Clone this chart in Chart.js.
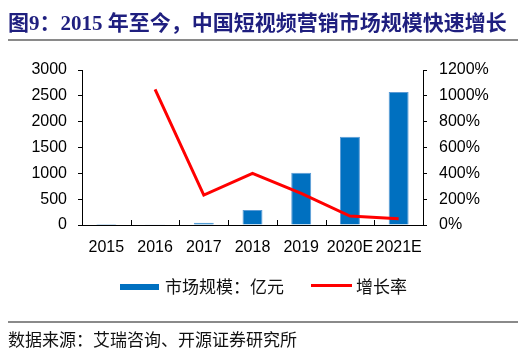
<!DOCTYPE html>
<html>
<head>
<meta charset="utf-8">
<script src="https://cdn.jsdelivr.net/npm/chart.js@4.4.1/dist/chart.umd.min.js"></script>
<style>
    body { margin: 0; background: #fff; }
    #wrap { position: relative; width: 522px; height: 352px; overflow: hidden; }
    #chart { position: absolute; left: 0; top: 0; }
    .abs { position: absolute; white-space: nowrap; }
    .title { left: 8px; top: 13px; font: bold 21px/21px "Liberation Serif", "Noto Sans CJK SC", serif; color: #1F1F7F; }
    .rule { left: 8px; width: 510px; height: 2px; background: #8a8a8a; }
    .note { font: 17px/17px "Noto Sans CJK SC", sans-serif; color: #111; }
</style>
</head>
<body>
<div id="wrap">
    <canvas id="chart" width="522" height="352"></canvas>
    <div class="abs title">图9：2015 年至今，中国短视频营销市场规模快速增长</div>
    <div class="abs rule" style="top:39px"></div>
    <div class="abs" style="left:120px; top:284px; width:39px; height:6px; background:#0070C0"></div>
    <div class="abs note" style="left:165px; top:277px">市场规模：亿元</div>
    <div class="abs" style="left:311px; top:284px; width:41px; height:3px; background:#FF0000"></div>
    <div class="abs note" style="left:356px; top:277px">增长率</div>
    <div class="abs rule" style="top:321px"></div>
    <div class="abs note" style="left:8px; top:330px">数据来源：艾瑞咨询、开源证券研究所</div>
</div>
<script>
// ======================================================
// Data
// ======================================================

const years = ["2015", "2016", "2017", "2018", "2019", "2020E", "2021E"];

const marketSize = [1, 13, 45, 290, 1012, 1709, 2574];      // 亿元

const growthRate = [null, 1050, 232, 400, 245, 69, 48];     // %

const leftTicks = [0, 500, 1000, 1500, 2000, 2500, 3000];

const rightTicks = [0, 200, 400, 600, 800, 1000, 1200];

// ======================================================
// Inward x-axis ticks between categories
// ======================================================

const innerTicks = {

    id: "innerTicks",

    afterDraw(chart) {

        const x = chart.scales.x;
        const ctx = chart.ctx;

        ctx.save();
        ctx.strokeStyle = "#000";
        ctx.lineWidth = 1;
        ctx.beginPath();

        for (let i = 1; i < years.length; i++) {
            const px = Math.round(x.getPixelForValue(i - 0.5)) + 0.5;
            ctx.moveTo(px, x.top);
            ctx.lineTo(px, x.top - 5);
        }

        ctx.stroke();
        ctx.restore();
    }
};

// ======================================================
// Chart
// ======================================================

Chart.defaults.font.family = "'Liberation Sans', Arial, sans-serif";
Chart.defaults.font.size = 16;
Chart.defaults.color = "#000";

new Chart(document.querySelector("#chart"), {

    type: "bar",

    data: {

        labels: years,

        datasets: [{
            type: "line",
            label: "增长率",
            data: growthRate,
            yAxisID: "y1",
            borderColor: "#FF0000",
            borderWidth: 3,
            pointRadius: 0,
            tension: 0,
            order: 0
        }, {
            type: "bar",
            label: "市场规模：亿元",
            data: marketSize,
            yAxisID: "y",
            backgroundColor: "#0070C0",
            borderColor: "#5B9BD5",
            borderWidth: 1,
            categoryPercentage: 1,
            barPercentage: 0.41,
            order: 1
        }]
    },

    options: {

        responsive: false,
        animation: false,

        layout: {
            padding: { left: 22, right: 19, top: 70, bottom: 87 }
        },

        plugins: {
            legend: { display: false },
            tooltip: { enabled: false }
        },

        scales: {

            x: {
                offset: true,
                afterFit: s => { s.height = 40; },
                border: { display: true, color: "#000", width: 1 },
                grid: { display: true, drawOnChartArea: false, drawTicks: false, offset: true },
                ticks: { padding: 13, maxRotation: 0, autoSkip: false }
            },

            y: {
                position: "left",
                min: 0,
                max: 3000,
                afterFit: s => { s.width = 60; },
                afterBuildTicks: s => { s.ticks = leftTicks.map(v => ({ value: v })); },
                border: { display: true, color: "#000", width: 1 },
                grid: { drawOnChartArea: false, tickLength: 4, color: "#000" },
                ticks: { padding: 11, callback: v => String(v) }
            },

            y1: {
                position: "right",
                min: 0,
                max: 1200,
                afterFit: s => { s.width = 80; },
                afterBuildTicks: s => { s.ticks = rightTicks.map(v => ({ value: v })); },
                border: { display: true, color: "#000", width: 1 },
                grid: { drawOnChartArea: false, tickLength: 4, color: "#000" },
                ticks: { padding: 12, callback: v => v + "%" }
            }
        }
    },

    plugins: [innerTicks]
});
</script>
</body>
</html>
